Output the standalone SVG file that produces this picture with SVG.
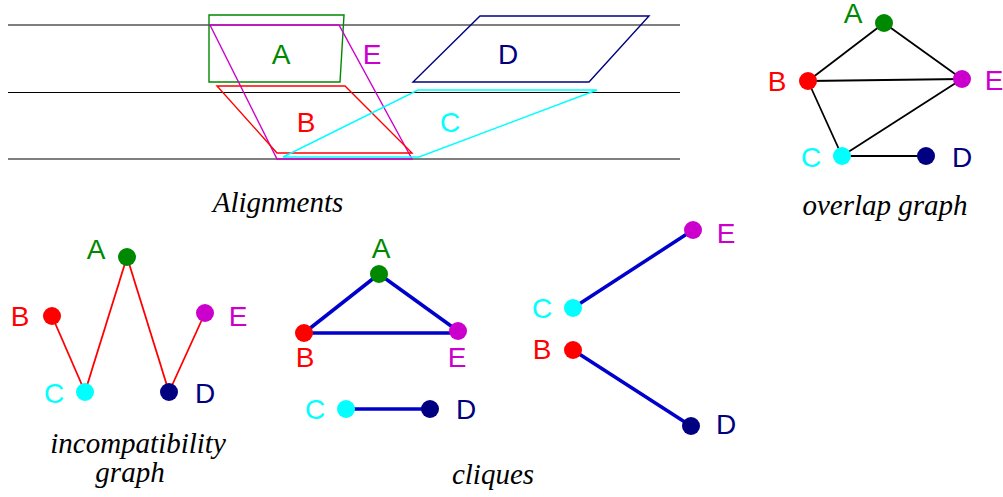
<svg xmlns="http://www.w3.org/2000/svg" width="1003" height="497" viewBox="0 0 1003 497">
<style>
.lbl{font-family:"Liberation Sans",Arial,sans-serif;font-size:28px;text-anchor:middle}
.cap{font-family:"Liberation Serif","Times New Roman",serif;font-style:italic;font-size:29px;text-anchor:middle;fill:#000}
.al{fill:none;stroke-width:1.4}
.ov{stroke:#000;stroke-width:1.8}
.ic{stroke:#ff0000;stroke-width:1.8}
.cq{stroke:#0000cc;stroke-width:3.5}
.cA{fill:#008800}.cB{fill:#ff0000}.cC{fill:#00ffff}.cD{fill:#000080}.cE{fill:#cc00cc}
</style>
<g id="alignments">
<line x1="8" y1="25" x2="680" y2="25" stroke="#000" stroke-width="1.2"/>
<line x1="8" y1="92.5" x2="680" y2="92.5" stroke="#000" stroke-width="1"/>
<line x1="8" y1="159" x2="680" y2="159" stroke="#000" stroke-width="1.2"/>
<g id="alignA"><polygon class="al" stroke="#008800" points="209,15 344,15 340,82 209,82"/><text class="lbl cA" x="281" y="64">A</text></g>
<g id="alignE"><polygon class="al" stroke="#cc00cc" points="210,25 339,25 412,159 277,159"/><text class="lbl cE" x="372" y="64">E</text></g>
<g id="alignD"><polygon class="al" stroke="#000080" points="480,16 649,16 589,82 413,82"/><text class="lbl cD" x="508" y="64">D</text></g>
<g id="alignB"><polygon class="al" stroke="#ff0000" points="217,86 345,86 412,153 277,153"/><text class="lbl cB" x="306" y="132">B</text></g>
<g id="alignC"><polygon class="al" stroke="#00ffff" points="418,90 597,90 419,157 283,157"/><text class="lbl cC" x="450" y="132">C</text></g>
<text class="cap" x="278" y="212">Alignments</text>
</g>
<g id="overlap">
<g id="ov-edges">
<line class="ov" x1="884" y1="23" x2="808" y2="81"/>
<line class="ov" x1="884" y1="23" x2="962" y2="79"/>
<line class="ov" x1="808" y1="81" x2="962" y2="79"/>
<line class="ov" x1="808" y1="81" x2="842" y2="156"/>
<line class="ov" x1="842" y1="156" x2="962" y2="79"/>
<line class="ov" x1="842" y1="156" x2="926" y2="156"/>
</g>
<g id="ovA"><circle class="cA" cx="884" cy="23" r="9"/><text class="lbl cA" x="853" y="23">A</text></g>
<g id="ovB"><circle class="cB" cx="808" cy="81" r="9"/><text class="lbl cB" x="777" y="91">B</text></g>
<g id="ovE"><circle class="cE" cx="962" cy="79" r="9"/><text class="lbl cE" x="994" y="90">E</text></g>
<g id="ovC"><circle class="cC" cx="842" cy="156" r="9"/><text class="lbl cC" x="811" y="167">C</text></g>
<g id="ovD"><circle class="cD" cx="926" cy="156" r="9"/><text class="lbl cD" x="962" y="167">D</text></g>
<text class="cap" x="885" y="215">overlap graph</text>
</g>
<g id="incompat">
<g id="ic-edges">
<line class="ic" x1="52" y1="316" x2="85" y2="392"/>
<line class="ic" x1="85" y1="392" x2="127" y2="257"/>
<line class="ic" x1="127" y1="257" x2="169" y2="392"/>
<line class="ic" x1="169" y1="392" x2="205" y2="313"/>
</g>
<g id="icA"><circle class="cA" cx="127" cy="257" r="9"/><text class="lbl cA" x="96" y="259">A</text></g>
<g id="icB"><circle class="cB" cx="52" cy="316" r="9"/><text class="lbl cB" x="20" y="326">B</text></g>
<g id="icE"><circle class="cE" cx="205" cy="313" r="9"/><text class="lbl cE" x="238" y="326">E</text></g>
<g id="icC"><circle class="cC" cx="85" cy="392" r="9"/><text class="lbl cC" x="54" y="403">C</text></g>
<g id="icD"><circle class="cD" cx="169" cy="392" r="9"/><text class="lbl cD" x="205" y="403">D</text></g>
<text class="cap" x="138" y="453">incompatibility</text>
<text class="cap" x="130" y="482">graph</text>
</g>
<g id="cliques">
<g id="cq-edges">
<line class="cq" x1="379" y1="274" x2="304" y2="333"/>
<line class="cq" x1="379" y1="274" x2="458" y2="331"/>
<line class="cq" x1="304" y1="333" x2="458" y2="333"/>
<line class="cq" x1="346" y1="409" x2="430" y2="409"/>
<line class="cq" x1="573" y1="308" x2="693" y2="230"/>
<line class="cq" x1="573" y1="350" x2="691" y2="426"/>
</g>
<g id="cqA"><circle class="cA" cx="379" cy="274" r="9"/><text class="lbl cA" x="381" y="258">A</text></g>
<g id="cqB"><circle class="cB" cx="304" cy="333" r="9"/><text class="lbl cB" x="305" y="367">B</text></g>
<g id="cqE"><circle class="cE" cx="458" cy="331" r="9"/><text class="lbl cE" x="457" y="367">E</text></g>
<g id="cqC"><circle class="cC" cx="346" cy="409" r="9"/><text class="lbl cC" x="315" y="419">C</text></g>
<g id="cqD"><circle class="cD" cx="430" cy="409" r="9"/><text class="lbl cD" x="466" y="419">D</text></g>
<g id="cqC2"><circle class="cC" cx="573" cy="308" r="9"/><text class="lbl cC" x="542" y="318">C</text></g>
<g id="cqE2"><circle class="cE" cx="693" cy="230" r="9"/><text class="lbl cE" x="726" y="243">E</text></g>
<g id="cqB2"><circle class="cB" cx="573" cy="350" r="9"/><text class="lbl cB" x="542" y="359">B</text></g>
<g id="cqD2"><circle class="cD" cx="691" cy="426" r="9"/><text class="lbl cD" x="726" y="434">D</text></g>
<text class="cap" x="493" y="484">cliques</text>
</g>
</svg>
